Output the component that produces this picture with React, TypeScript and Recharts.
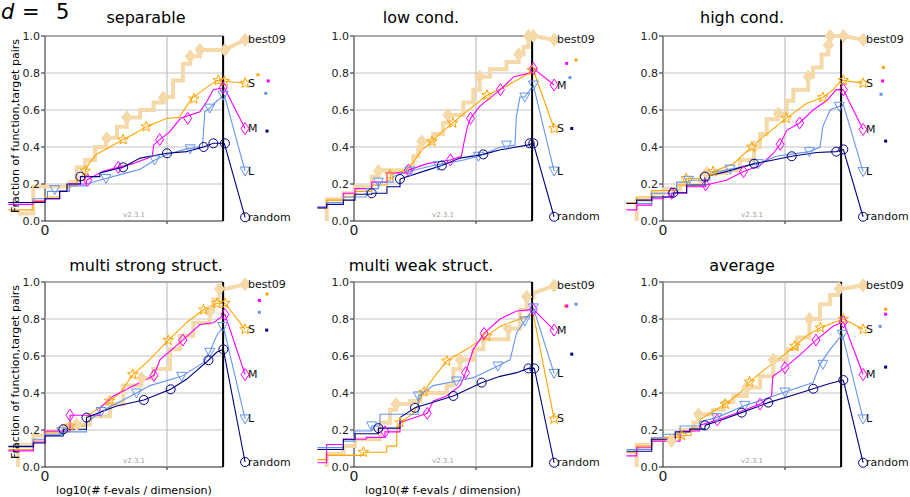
import React from 'react';
import { ComposedChart, Line, Scatter, XAxis, YAxis, ReferenceLine, ReferenceArea } from 'recharts';

type Pt = [number, number];

const FONT = "'DejaVu Sans', sans-serif";

const panelTitles = ['separable', 'low cond.', 'high cond.', 'multi strong struct.', 'multi weak struct.', 'average'];
const seriesNames = ['best09', 'S', 'M', 'L', 'random'];
const yTicks = [0, 0.2, 0.4, 0.6, 0.8, 1.0];
const xTickLabels = [0];
const xGrid = [1];
const xDomain: [number, number] = [-0.3, 1.9];
const xEnd = 1.46;
const labelX = 1.64;
// below this x the algorithm curves are coarse staircases, above it they are fine steps
const stepLimit = 0.3;
const versionText = 'v2.3.1';

// ---- separable ----
const sepBest09: Pt[] = [[-0.22, 0.04], [-0.096, 0.186], [0.2, 0.21], [0.26, 0.29], [0.33, 0.33], [0.41, 0.4], [0.5, 0.45], [0.59, 0.51], [0.67, 0.56], [0.78, 0.6], [0.89, 0.64], [0.97, 0.67], [1.05, 0.76], [1.13, 0.85], [1.19, 0.89], [1.27, 0.925], [1.47, 0.925]];
const sepS: Pt[] = [[-0.3, 0.06], [-0.1, 0.11], [0, 0.13], [0.12, 0.16], [0.18, 0.19], [0.26, 0.22], [0.33, 0.27], [0.36, 0.31], [0.42, 0.36], [0.53, 0.4], [0.64, 0.44], [0.73, 0.47], [0.83, 0.51], [1.0, 0.555], [1.1, 0.56], [1.2, 0.66], [1.3, 0.71], [1.41, 0.76], [1.47, 0.755]];
const sepM: Pt[] = [[-0.3, 0.09], [-0.1, 0.105], [0, 0.12], [0.12, 0.16], [0.2, 0.2], [0.34, 0.22], [0.48, 0.27], [0.6, 0.29], [0.72, 0.31], [0.88, 0.35], [0.89, 0.41], [0.94, 0.44], [1.02, 0.48], [1.11, 0.555], [1.27, 0.59], [1.33, 0.65], [1.38, 0.71], [1.47, 0.72]];
const sepL: Pt[] = [[-0.3, 0.1], [-0.1, 0.12], [0.02, 0.16], [0.2, 0.19], [0.34, 0.2], [0.5, 0.23], [0.67, 0.26], [0.78, 0.28], [0.9, 0.33], [1.0, 0.36], [1.16, 0.39], [1.29, 0.4], [1.31, 0.59], [1.35, 0.61], [1.41, 0.65], [1.47, 0.68]];
const sepRandom: Pt[] = [[-0.3, 0.1], [-0.1, 0.1], [0, 0.12], [0.12, 0.16], [0.18, 0.2], [0.29, 0.24], [0.45, 0.26], [0.64, 0.29], [0.78, 0.34], [1.0, 0.366], [1.16, 0.375], [1.3, 0.4], [1.38, 0.42], [1.47, 0.42]];
const sepBest09Marks: Pt[] = [[0.505, 0.447], [0.67, 0.56], [0.97, 0.667], [1.19, 0.89], [1.27, 0.925], [1.475, 0.925]];
const sepSMarks: Pt[] = [[0.33, 0.27], [0.64, 0.44], [0.83, 0.51], [1.22, 0.66], [1.42, 0.76], [1.47, 0.755]];
const sepMMarks: Pt[] = [[0.35, 0.22], [0.6, 0.29], [0.94, 0.44], [1.17, 0.555], [1.46, 0.72]];
const sepLMarks: Pt[] = [[0.08, 0.17], [0.5, 0.23], [0.9, 0.33], [1.19, 0.39], [1.35, 0.61], [1.46, 0.68]];
const sepRandomMarks: Pt[] = [[0.29, 0.24], [0.64, 0.29], [1.0, 0.366], [1.3, 0.4], [1.38, 0.42], [1.475, 0.42]];
const sepLabels = [0.98, 0.745, 0.5, 0.27, 0.02];
const sepDots: Pt[] = [[1.746, 0.79], [1.83, 0.757], [1.81, 0.69], [1.82, 0.486]];

// ---- low cond. ----
const lowBest09: Pt[] = [[-0.224, 0.0], [-0.224, 0.117], [-0.087, 0.15], [0.008, 0.185], [0.145, 0.24], [0.2, 0.275], [0.43, 0.285], [0.486, 0.35], [0.527, 0.4], [0.555, 0.43], [0.65, 0.47], [0.73, 0.53], [0.77, 0.573], [0.896, 0.64], [0.978, 0.71], [1.03, 0.78], [1.115, 0.82], [1.25, 0.86], [1.35, 0.9], [1.39, 0.94], [1.43, 1.0], [1.47, 1.0]];
const lowS: Pt[] = [[-0.3, 0.07], [-0.224, 0.113], [-0.087, 0.13], [0.008, 0.16], [0.145, 0.195], [0.27, 0.22], [0.3, 0.25], [0.43, 0.275], [0.5, 0.33], [0.55, 0.38], [0.64, 0.43], [0.7, 0.47], [0.81, 0.53], [0.92, 0.59], [1.09, 0.68], [1.25, 0.73], [1.36, 0.77], [1.47, 0.815]];
const lowM: Pt[] = [[-0.3, 0.075], [-0.224, 0.1], [-0.087, 0.15], [0.008, 0.175], [0.145, 0.21], [0.27, 0.26], [0.445, 0.275], [0.6, 0.31], [0.79, 0.33], [0.88, 0.35], [0.9, 0.42], [0.93, 0.51], [0.955, 0.555], [1.03, 0.62], [1.2, 0.71], [1.31, 0.78], [1.44, 0.8], [1.47, 0.825]];
const lowL: Pt[] = [[-0.3, 0.075], [-0.224, 0.1], [-0.087, 0.13], [0.1, 0.175], [0.2, 0.21], [0.32, 0.24], [0.46, 0.27], [0.65, 0.3], [0.9, 0.33], [1.02, 0.35], [1.2, 0.4], [1.32, 0.41], [1.33, 0.56], [1.36, 0.67], [1.4, 0.67], [1.47, 0.735]];
const lowRandom: Pt[] = [[-0.3, 0.07], [-0.224, 0.09], [-0.087, 0.113], [0.008, 0.145], [0.145, 0.15], [0.27, 0.185], [0.377, 0.227], [0.6, 0.275], [0.72, 0.3], [0.87, 0.34], [1.06, 0.36], [1.2, 0.385], [1.42, 0.41], [1.47, 0.42]];
const lowBest09Marks: Pt[] = [[0.2, 0.27], [0.555, 0.43], [0.77, 0.573], [1.03, 0.78], [1.35, 0.9], [1.43, 1.0], [1.47, 1.0]];
const lowSMarks: Pt[] = [[0.295, 0.25], [0.64, 0.43], [0.81, 0.53], [1.09, 0.68], [1.46, 0.815]];
const lowMMarks: Pt[] = [[0.445, 0.275], [0.79, 0.33], [0.955, 0.555], [1.2, 0.71], [1.47, 0.825]];
const lowLMarks: Pt[] = [[0.2, 0.21], [0.46, 0.27], [0.69, 0.3], [1.02, 0.35], [1.25, 0.41], [1.4, 0.67], [1.47, 0.735]];
const lowRandomMarks: Pt[] = [[0.145, 0.15], [0.377, 0.227], [0.72, 0.3], [1.06, 0.36], [1.44, 0.42], [1.47, 0.42]];
const lowLabels = [0.98, 0.5, 0.735, 0.27, 0.023];
const lowDots: Pt[] = [[1.82, 0.87], [1.743, 0.852], [1.77, 0.775], [1.785, 0.5]];

// ---- high cond. ----
const highBest09: Pt[] = [[-0.216, 0.0], [-0.216, 0.113], [-0.093, 0.15], [0.003, 0.17], [0.14, 0.195], [0.303, 0.22], [0.36, 0.26], [0.52, 0.275], [0.63, 0.33], [0.746, 0.4], [0.795, 0.47], [0.85, 0.55], [0.945, 0.58], [1.014, 0.65], [1.068, 0.71], [1.19, 0.78], [1.23, 0.83], [1.3, 0.9], [1.355, 0.95], [1.37, 1.0], [1.478, 1.0]];
const highS: Pt[] = [[-0.3, 0.1], [-0.216, 0.13], [-0.093, 0.165], [0.112, 0.195], [0.19, 0.23], [0.303, 0.25], [0.41, 0.267], [0.577, 0.31], [0.727, 0.4], [0.85, 0.47], [1.01, 0.555], [1.178, 0.636], [1.31, 0.668], [1.396, 0.71], [1.46, 0.76], [1.478, 0.76]];
const highM: Pt[] = [[-0.3, 0.06], [-0.216, 0.086], [-0.093, 0.12], [0.003, 0.13], [0.07, 0.15], [0.194, 0.185], [0.35, 0.195], [0.52, 0.22], [0.66, 0.267], [0.795, 0.3], [0.904, 0.365], [0.96, 0.415], [1.014, 0.49], [1.12, 0.53], [1.23, 0.6], [1.34, 0.65], [1.42, 0.71], [1.478, 0.71]];
const highL: Pt[] = [[-0.3, 0.095], [-0.093, 0.15], [0.112, 0.21], [0.21, 0.22], [0.385, 0.26], [0.55, 0.28], [0.78, 0.31], [0.93, 0.35], [1.2, 0.375], [1.287, 0.4], [1.31, 0.51], [1.37, 0.6], [1.445, 0.62], [1.478, 0.63]];
const highRandom: Pt[] = [[-0.3, 0.095], [-0.216, 0.113], [-0.093, 0.13], [0.085, 0.153], [0.194, 0.195], [0.344, 0.24], [0.52, 0.267], [0.746, 0.31], [0.904, 0.33], [1.055, 0.35], [1.26, 0.37], [1.42, 0.375], [1.478, 0.387]];
const highBest09Marks: Pt[] = [[0.36, 0.26], [0.746, 0.4], [0.945, 0.58], [1.19, 0.78], [1.355, 0.95], [1.37, 1.0], [1.48, 1.0]];
const highSMarks: Pt[] = [[0.19, 0.23], [0.41, 0.267], [0.727, 0.4], [1.01, 0.555], [1.31, 0.668], [1.478, 0.76]];
const highMMarks: Pt[] = [[0.07, 0.15], [0.35, 0.195], [0.66, 0.267], [0.96, 0.415], [1.12, 0.53], [1.478, 0.71]];
const highLMarks: Pt[] = [[0.21, 0.22], [0.55, 0.28], [0.78, 0.31], [1.2, 0.375], [1.445, 0.62]];
const highRandomMarks: Pt[] = [[0.085, 0.153], [0.344, 0.24], [0.746, 0.31], [1.055, 0.35], [1.42, 0.375], [1.478, 0.387]];
const highLabels = [0.98, 0.745, 0.495, 0.267, 0.023];
const highDots: Pt[] = [[1.806, 0.83], [1.8, 0.757], [1.787, 0.685], [1.825, 0.432]];

// ---- multi strong struct. ----
const mstBest09: Pt[] = [[-0.22, 0.0], [-0.22, 0.12], [-0.096, 0.17], [0, 0.185], [0.15, 0.22], [0.26, 0.23], [0.369, 0.275], [0.533, 0.34], [0.642, 0.44], [0.79, 0.48], [0.888, 0.53], [1.025, 0.636], [1.107, 0.71], [1.216, 0.78], [1.35, 0.84], [1.38, 0.906], [1.43, 0.964], [1.49, 0.964]];
const mstS: Pt[] = [[-0.3, 0.095], [-0.096, 0.146], [0, 0.19], [0.205, 0.222], [0.34, 0.275], [0.53, 0.357], [0.615, 0.4], [0.72, 0.5], [0.833, 0.564], [1.01, 0.685], [1.16, 0.78], [1.3, 0.85], [1.41, 0.885], [1.475, 0.885]];
const mstM: Pt[] = [[-0.3, 0.087], [-0.096, 0.135], [0, 0.195], [0.205, 0.28], [0.45, 0.32], [0.56, 0.384], [0.893, 0.495], [0.943, 0.58], [1.13, 0.686], [1.27, 0.77], [1.38, 0.78], [1.475, 0.825]];
const mstL: Pt[] = [[-0.3, 0.113], [-0.096, 0.15], [0, 0.177], [0.137, 0.19], [0.34, 0.24], [0.46, 0.3], [0.75, 0.4], [0.86, 0.44], [1.12, 0.49], [1.3, 0.565], [1.35, 0.62], [1.407, 0.71], [1.462, 0.76]];
const mstRandom: Pt[] = [[-0.3, 0.11], [-0.096, 0.13], [0, 0.168], [0.15, 0.204], [0.34, 0.267], [0.587, 0.33], [0.81, 0.362], [1.03, 0.42], [1.16, 0.474], [1.34, 0.577], [1.407, 0.62], [1.462, 0.636]];
const mstBest09Marks: Pt[] = [[0.26, 0.23], [0.79, 0.48], [1.35, 0.84], [1.43, 0.964]];
const mstSMarks: Pt[] = [[0.205, 0.222], [0.53, 0.357], [0.72, 0.5], [1.01, 0.685], [1.3, 0.85], [1.41, 0.885], [1.475, 0.885]];
const mstMMarks: Pt[] = [[0.205, 0.28], [0.893, 0.495], [1.13, 0.686], [1.475, 0.825]];
const mstLMarks: Pt[] = [[0.137, 0.19], [0.46, 0.3], [0.75, 0.4], [1.12, 0.49], [1.35, 0.62], [1.456, 0.76]];
const mstRandomMarks: Pt[] = [[0.15, 0.204], [0.34, 0.267], [0.81, 0.362], [1.03, 0.42], [1.34, 0.577], [1.462, 0.636]];
const mstLabels = [0.987, 0.744, 0.5, 0.26, 0.027];
const mstDots: Pt[] = [[1.82, 0.935], [1.757, 0.9], [1.757, 0.836], [1.817, 0.74]];

// ---- multi weak struct. ----
const mwkBest09: Pt[] = [[-0.224, 0.0], [-0.224, 0.07], [-0.087, 0.113], [0.008, 0.15], [0.213, 0.24], [0.295, 0.31], [0.344, 0.34], [0.46, 0.357], [0.54, 0.4], [0.76, 0.44], [0.814, 0.53], [0.87, 0.58], [0.978, 0.636], [1.06, 0.69], [1.265, 0.748], [1.36, 0.85], [1.415, 0.92], [1.47, 0.94]];
const mwkS: Pt[] = [[-0.3, 0.04], [-0.224, 0.063], [0.077, 0.08], [0.268, 0.113], [0.35, 0.195], [0.377, 0.24], [0.486, 0.29], [0.574, 0.405], [0.623, 0.456], [0.76, 0.573], [0.923, 0.636], [1.087, 0.708], [1.197, 0.76], [1.36, 0.8], [1.47, 0.825]];
const mwkM: Pt[] = [[-0.3, 0.023], [-0.224, 0.122], [-0.087, 0.15], [0.1, 0.16], [0.254, 0.19], [0.377, 0.24], [0.6, 0.29], [0.65, 0.357], [0.76, 0.384], [0.87, 0.44], [0.915, 0.51], [0.978, 0.636], [1.066, 0.722], [1.197, 0.8], [1.333, 0.843], [1.47, 0.852]];
const mwkL: Pt[] = [[-0.3, 0.105], [-0.087, 0.14], [0.008, 0.195], [0.145, 0.222], [0.213, 0.285], [0.527, 0.384], [0.65, 0.44], [0.84, 0.465], [0.978, 0.483], [1.18, 0.546], [1.28, 0.58], [1.333, 0.726], [1.4, 0.79], [1.47, 0.86]];
const mwkRandom: Pt[] = [[-0.3, 0.095], [-0.087, 0.15], [0.008, 0.18], [0.2, 0.21], [0.377, 0.267], [0.5, 0.32], [0.814, 0.384], [1.046, 0.456], [1.197, 0.49], [1.333, 0.51], [1.43, 0.533], [1.478, 0.533]];
const mwkBest09Marks: Pt[] = [[0.344, 0.34], [0.87, 0.58], [1.265, 0.748], [1.415, 0.92]];
const mwkSMarks: Pt[] = [[0.077, 0.08], [0.377, 0.24], [0.574, 0.405], [0.76, 0.573], [1.087, 0.708]];
const mwkMMarks: Pt[] = [[0.254, 0.19], [0.6, 0.29], [0.915, 0.51], [1.066, 0.722], [1.47, 0.852]];
const mwkLMarks: Pt[] = [[0.145, 0.222], [0.527, 0.384], [0.84, 0.465], [1.18, 0.546], [1.4, 0.79], [1.47, 0.86]];
const mwkRandomMarks: Pt[] = [[0.2, 0.21], [0.5, 0.32], [0.814, 0.384], [1.046, 0.456], [1.43, 0.533], [1.478, 0.533]];
const mwkLabels = [0.98, 0.26, 0.74, 0.506, 0.023];
const mwkDots: Pt[] = [[1.735, 0.87], [1.745, 0.87], [1.82, 0.88], [1.785, 0.61]];

// ---- average ----
const avgBest09: Pt[] = [[-0.216, 0.0], [-0.216, 0.12], [-0.093, 0.15], [0.07, 0.17], [0.14, 0.2], [0.25, 0.24], [0.29, 0.285], [0.41, 0.31], [0.5, 0.35], [0.577, 0.384], [0.686, 0.43], [0.795, 0.49], [0.904, 0.58], [1.014, 0.636], [1.1, 0.7], [1.2, 0.8], [1.287, 0.88], [1.37, 0.93], [1.445, 0.964], [1.478, 0.964]];
const avgS: Pt[] = [[-0.3, 0.077], [-0.216, 0.113], [-0.093, 0.15], [0.003, 0.16], [0.153, 0.17], [0.23, 0.21], [0.303, 0.257], [0.41, 0.3], [0.51, 0.34], [0.63, 0.4], [0.71, 0.46], [0.8, 0.51], [0.9, 0.56], [1.0, 0.61], [1.08, 0.654], [1.18, 0.71], [1.29, 0.753], [1.478, 0.8]];
const avgM: Pt[] = [[-0.3, 0.06], [-0.216, 0.104], [-0.093, 0.14], [0.14, 0.195], [0.3, 0.225], [0.445, 0.254], [0.6, 0.29], [0.795, 0.34], [0.89, 0.384], [0.9, 0.49], [1.0, 0.537], [1.13, 0.61], [1.254, 0.686], [1.396, 0.762], [1.478, 0.784]];
const avgL: Pt[] = [[-0.3, 0.095], [-0.093, 0.158], [0.003, 0.177], [0.14, 0.222], [0.3, 0.245], [0.44, 0.267], [0.67, 0.333], [0.85, 0.37], [1.0, 0.405], [1.23, 0.456], [1.287, 0.555], [1.37, 0.636], [1.47, 0.717]];
const avgRandom: Pt[] = [[-0.3, 0.085], [-0.093, 0.15], [0.1, 0.19], [0.22, 0.205], [0.344, 0.225], [0.5, 0.26], [0.645, 0.294], [0.863, 0.348], [1.05, 0.385], [1.232, 0.423], [1.36, 0.45], [1.478, 0.47]];
const avgBest09Marks: Pt[] = [[0.07, 0.14], [0.29, 0.285], [0.686, 0.43], [0.904, 0.58], [1.2, 0.8], [1.445, 0.964]];
const avgSMarks: Pt[] = [[0.153, 0.17], [0.51, 0.34], [0.71, 0.46], [1.08, 0.654], [1.29, 0.753], [1.478, 0.8]];
const avgMMarks: Pt[] = [[0.445, 0.254], [0.795, 0.34], [1.0, 0.537], [1.254, 0.686], [1.478, 0.784]];
const avgLMarks: Pt[] = [[0.44, 0.267], [0.67, 0.333], [1.0, 0.405], [1.31, 0.555], [1.47, 0.717]];
const avgRandomMarks: Pt[] = [[0.344, 0.225], [0.645, 0.294], [0.863, 0.348], [1.232, 0.423], [1.478, 0.47]];
const avgLabels = [0.982, 0.744, 0.5, 0.26, 0.023];
const avgDots: Pt[] = [[1.825, 0.853], [1.825, 0.826], [1.78, 0.76], [1.825, 0.54]];

const seriesStyle = [
  { color: '#f5d9a8', width: 4, marker: 'filledDiamond' },
  { color: '#ffa500', width: 1.1, marker: 'star' },
  { color: '#ff00ff', width: 1.1, marker: 'diamond' },
  { color: '#6495ed', width: 1.1, marker: 'triangleDown' },
  { color: '#000080', width: 1.1, marker: 'circle' },
];

const panels = [
  { lines: [sepBest09, sepS, sepM, sepL, sepRandom], marks: [sepBest09Marks, sepSMarks, sepMMarks, sepLMarks, sepRandomMarks], labels: sepLabels, dots: sepDots },
  { lines: [lowBest09, lowS, lowM, lowL, lowRandom], marks: [lowBest09Marks, lowSMarks, lowMMarks, lowLMarks, lowRandomMarks], labels: lowLabels, dots: lowDots },
  { lines: [highBest09, highS, highM, highL, highRandom], marks: [highBest09Marks, highSMarks, highMMarks, highLMarks, highRandomMarks], labels: highLabels, dots: highDots },
  { lines: [mstBest09, mstS, mstM, mstL, mstRandom], marks: [mstBest09Marks, mstSMarks, mstMMarks, mstLMarks, mstRandomMarks], labels: mstLabels, dots: mstDots },
  { lines: [mwkBest09, mwkS, mwkM, mwkL, mwkRandom], marks: [mwkBest09Marks, mwkSMarks, mwkMMarks, mwkLMarks, mwkRandomMarks], labels: mwkLabels, dots: mwkDots },
  { lines: [avgBest09, avgS, avgM, avgL, avgRandom], marks: [avgBest09Marks, avgSMarks, avgMMarks, avgLMarks, avgRandomMarks], labels: avgLabels, dots: avgDots },
];

const toXY = (pts: Pt[]) => pts.map(([x, y]) => ({ x, y }));

// coarse staircase part and fine part of a curve
function splitCurve(pts: Pt[]): [Pt[], Pt[]] {
  const k = pts.findIndex(([x]) => x >= stepLimit);
  if (k < 0) return [pts, []];
  return [pts.slice(0, k + 1), pts.slice(k)];
}

function starPoints(cx: number, cy: number, ro: number, ri: number) {
  const pts: string[] = [];
  for (let k = 0; k < 10; k++) {
    const r = k % 2 === 0 ? ro : ri;
    const a = -Math.PI / 2 + (k * Math.PI) / 5;
    pts.push(`${cx + r * Math.cos(a)},${cy + r * Math.sin(a)}`);
  }
  return pts.join(' ');
}

function marker(i: number, cx: number, cy: number) {
  const { color, marker: kind } = seriesStyle[i];
  if (kind === 'filledDiamond')
    return <polygon points={`${cx},${cy - 6.5} ${cx + 5},${cy} ${cx},${cy + 6.5} ${cx - 5},${cy}`} fill={color} stroke={color} />;
  if (kind === 'star')
    return <polygon points={starPoints(cx, cy, 5.5, 2.3)} fill="none" stroke={color} strokeWidth={1} />;
  if (kind === 'diamond')
    return <polygon points={`${cx},${cy - 6} ${cx + 4},${cy} ${cx},${cy + 6} ${cx - 4},${cy}`} fill="none" stroke={color} strokeWidth={1} />;
  if (kind === 'triangleDown')
    return <polygon points={`${cx - 5},${cy - 4} ${cx + 5},${cy - 4} ${cx},${cy + 5}`} fill="none" stroke={color} strokeWidth={1} />;
  return <circle cx={cx} cy={cy} r={4.5} fill="none" stroke={color} strokeWidth={1} />;
}

const CHART_W = 310;
const CHART_H = 250;
const MARGIN = { top: 36, right: 33.2, bottom: 29, left: 8.4 };

function curveLine(key: string, pts: Pt[], i: number, type: 'stepAfter' | 'linear') {
  return (
    <Line
      key={key}
      data={toXY(pts)}
      dataKey="y"
      type={type}
      stroke={seriesStyle[i].color}
      strokeWidth={seriesStyle[i].width}
      dot={false}
      activeDot={false}
      isAnimationActive={false}
    />
  );
}

function Panel({ idx }: { idx: number }) {
  const p = panels[idx];
  const col = idx % 3;
  const row = Math.floor(idx / 3);
  return (
    <div style={{ position: 'absolute', left: col * 309, top: row * 246 }}>
      <ComposedChart width={CHART_W} height={CHART_H} margin={MARGIN}>
        <XAxis type="number" dataKey="x" domain={xDomain} hide />
        <YAxis type="number" dataKey="y" domain={[0, 1]} hide />
        {yTicks.slice(1).map((v) => (
          <ReferenceLine key={'h' + v} segment={[{ x: 0, y: v }, { x: xEnd, y: v }]} stroke="#c4c4c4" strokeWidth={1} />
        ))}
        {xGrid.map((v) => (
          <ReferenceLine key={'v' + v} x={v} stroke="#b4b4b4" strokeWidth={1} />
        ))}
        <ReferenceArea x1={0} x2={xEnd} y1={0} y2={1} fill="none" fillOpacity={0} stroke="#222" strokeWidth={1} />
        <Scatter
          data={[{ x: xEnd / 2, y: 0.03 }]}
          isAnimationActive={false}
          shape={(s: any) => (
            <text x={s.cx} y={s.cy} textAnchor="middle" dominantBaseline="central" fontSize={7} fill="#a0a0a0" fontFamily={FONT}>
              {versionText}
            </text>
          )}
        />
        {p.lines.map((pts, i) => {
          if (i === 0) return curveLine('l0', pts, 0, 'stepAfter');
          const [coarse, fine] = splitCurve(pts);
          return (
            <React.Fragment key={'l' + i}>
              {curveLine('ls' + i, coarse, i, 'stepAfter')}
              {fine.length > 1 ? curveLine('lf' + i, fine, i, 'linear') : null}
            </React.Fragment>
          );
        })}
        {p.lines.map((pts, i) => curveLine('c' + i, [pts[pts.length - 1], [labelX, p.labels[i]]], i, 'linear'))}
        {p.marks.map((pts, i) => (
          <Scatter key={'m' + i} data={toXY(pts)} isAnimationActive={false} shape={(s: any) => marker(i, s.cx, s.cy)} />
        ))}
        {p.labels.map((ly, i) => (
          <Scatter
            key={'t' + i}
            data={[{ x: labelX, y: ly }]}
            isAnimationActive={false}
            shape={(s: any) => (
              <g>
                {marker(i, s.cx, s.cy)}
                <text x={s.cx + 3} y={s.cy} dominantBaseline="central" fontSize={11} fill="#111" fontFamily={FONT}>
                  {seriesNames[i]}
                </text>
              </g>
            )}
          />
        ))}
        {p.dots.map((d, i) => (
          <Scatter
            key={'d' + i}
            data={toXY([d])}
            isAnimationActive={false}
            shape={(s: any) => <rect x={s.cx - 1.5} y={s.cy - 1.5} width={3} height={3} fill={seriesStyle[i + 1].color} />}
          />
        ))}
        <ReferenceLine x={xEnd} stroke="#000" strokeWidth={2} />
        <Scatter
          data={yTicks.map((v) => ({ x: 0, y: v }))}
          isAnimationActive={false}
          shape={(s: any) => (
            <g>
              <line x1={s.cx - 4} x2={s.cx} y1={s.cy} y2={s.cy} stroke="#222" />
              <text x={s.cx - 5} y={s.cy} textAnchor="end" dominantBaseline="central" fontSize={11} fill="#222" fontFamily={FONT}>
                {s.payload.y.toFixed(1)}
              </text>
            </g>
          )}
        />
        <Scatter
          data={xTickLabels.map((v) => ({ x: v, y: 0 }))}
          isAnimationActive={false}
          shape={(s: any) => (
            <text x={s.cx} y={s.cy + 14} textAnchor="middle" fontSize={14} fill="#222" fontFamily={FONT}>
              {String(s.payload.x)}
            </text>
          )}
        />
        <Scatter
          data={xGrid.map((v) => ({ x: v, y: 0 }))}
          isAnimationActive={false}
          shape={(s: any) => <line x1={s.cx} x2={s.cx} y1={s.cy} y2={s.cy + 3} stroke="#222" />}
        />
      </ComposedChart>
    </div>
  );
}

const titleX = [146, 421, 742];
const titleY = [23, 271];
const yLabel = 'Fraction of function,target pairs';
const xLabel = 'log10(# f-evals / dimension)';

export default function App() {
  return (
    <div style={{ position: 'absolute', left: 0, top: 0, width: 910, height: 497, overflow: 'hidden', background: '#fff', fontFamily: FONT }}>
      {panels.map((_, i) => (
        <Panel key={i} idx={i} />
      ))}
      <svg width={910} height={497} style={{ position: 'absolute', left: 0, top: 0, pointerEvents: 'none' }}>
        <text x={1} y={19} fontSize={21} fontStyle="italic" fontFamily={FONT} fill="#000">d</text>
        <text x={22} y={19} fontSize={21} fontFamily={FONT} fill="#000">=</text>
        <text x={56} y={19} fontSize={21} fontFamily={FONT} fill="#000">5</text>
        {panelTitles.map((t, i) => (
          <text key={t} x={titleX[i % 3]} y={titleY[Math.floor(i / 3)]} textAnchor="middle" fontSize={16} fontFamily={FONT} fill="#000">
            {t}
          </text>
        ))}
        {[126, 372].map((cy) => (
          <text key={cy} transform={`translate(19,${cy}) rotate(-90)`} textAnchor="middle" fontSize={11} fontFamily={FONT} fill="#000">
            {yLabel}
          </text>
        ))}
        {[134, 443].map((cx) => (
          <text key={cx} x={cx} y={494} textAnchor="middle" fontSize={11} fontFamily={FONT} fill="#000">
            {xLabel}
          </text>
        ))}
      </svg>
    </div>
  );
}
